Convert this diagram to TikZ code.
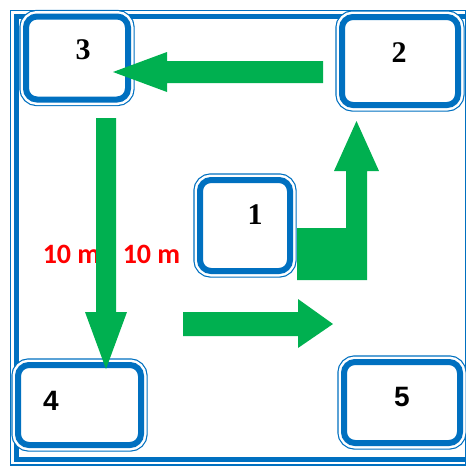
\documentclass[tikz,border=0pt]{standalone}
\usepackage{fontspec}
\setmainfont{Liberation Serif}
\newfontfamily\labelsans{Liberation Sans}
\newfontfamily\distfont{Carlito}
\definecolor{boxblue}{HTML}{0070C0}
\definecolor{arrowgreen}{HTML}{00B050}
\definecolor{distred}{HTML}{FF0000}
\tikzset{
  figframe/.style={draw=boxblue, line width=5pt},
  figframethin/.style={draw=boxblue, line width=1.2pt},
  figbox/.style={draw=boxblue, line width=6pt, rounded corners=11pt, fill=white, inner sep=0pt,
    preaction={draw=boxblue, line width=13.4pt},
    preaction={draw=white, line width=11pt}},
  figserif/.style={font=\bfseries\fontsize{30}{30}\selectfont, inner sep=0pt},
  figsans/.style={font=\labelsans\bfseries\fontsize{28}{28}\selectfont, inner sep=0pt},
  figdist/.style={font=\distfont\bfseries\fontsize{28}{28}\selectfont, text=distred, inner sep=0pt},
  figarrowfill/.style={fill=arrowgreen},
}

\begin{document}
\begin{tikzpicture}[x=1pt, y=-1pt]
		\useasboundingbox (0,0) rectangle (466,467);

		% Room boundary
		\draw[figframethin] (10.5,10.5) rectangle (465.5,465);
		\draw[figframe] (16,16) rectangle (475,459.5);

		% Distance labels
		\node[figdist] (d1) at (71.5,254) {10 m};
		\node[figdist] (d2) at (151.5,254) {10 m};

		% Stations
		\node[figbox, minimum width=102, minimum height=83] (b3) at (77,58) {};
		\node[figbox, minimum width=116, minimum height=88] (b2) at (400,61) {};
		\node[figbox, minimum width=90, minimum height=91] (b1) at (245,225.5) {};
		\node[figbox, minimum width=123, minimum height=80] (b4) at (79.5,405) {};
		\node[figbox, minimum width=116, minimum height=81] (b5) at (402,402.5) {};

		% Station numbers
		\node[figserif] (l3) at (83,50) {3};
		\node[figserif] (l2) at (399,53) {2};
		\node[figserif] (l1) at (255,215) {1};
		\node[figsans] (l4) at (51,401) {4};
		\node[figsans] (l5) at (402,397) {5};

		% Block arrows
		\fill[figarrowfill] (323,61) -- (167,61) -- (167,52) -- (113,72)
			-- (167,92) -- (167,83) -- (323,83) -- cycle;
		\fill[figarrowfill] (96,118) -- (116,118) -- (116,312) -- (127,312)
			-- (106,369) -- (85,312) -- (96,312) -- cycle;
		\fill[figarrowfill] (183,312) -- (298,312) -- (298,299) -- (333,324)
			-- (298,348) -- (298,336) -- (183,336) -- cycle;
		\fill[figarrowfill] (297,228) -- (346,228) -- (346,171) -- (334,171)
			-- (356.5,121) -- (379,171) -- (367,171) -- (367,280) -- (297,280) -- cycle;
	\end{tikzpicture}
\end{document}
